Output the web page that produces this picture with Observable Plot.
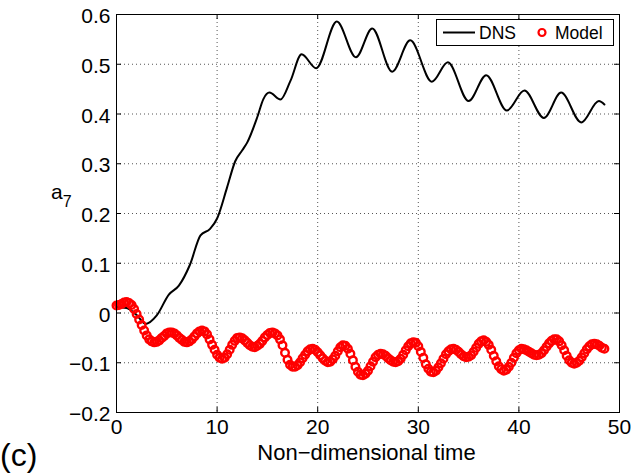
<!DOCTYPE html>
<html>
<head>
<meta charset="utf-8">
<script src="https://cdn.jsdelivr.net/npm/d3@7"></script>
<script src="https://cdn.jsdelivr.net/npm/@observablehq/plot@0.6"></script>
<style>
  body { margin: 0; background: #fff; }
  #fig { position: relative; width: 632px; height: 474px; font-family: "Liberation Sans", Arial, Helvetica, sans-serif; color: #000; }
  #fig svg { position: absolute; left: 0; top: 0; }
</style>
</head>
<body>
<div id="fig"></div>
<script>
// DNS coefficient a7 (time, value)
const dnsTime  = [0, 1.0, 2.0, 2.9, 4.0, 5.2, 6.2, 7.3, 8.35, 9.3, 10.0, 11.0, 11.8, 12.5, 13.0, 14.0, 14.6, 15.2,
                  16.3, 17.3, 18.4, 19.85, 21.9, 23.8, 25.42, 27.4, 29.2, 31.35, 32.94, 35.0, 36.75, 38.8,
                  40.55, 42.48, 44.2, 46.2, 47.95, 48.5];
const dnsValue = [0.012, 0.010, -0.004, -0.022, -0.005, 0.037, 0.055, 0.097, 0.156, 0.169, 0.190, 0.253, 0.305, 0.327, 0.343, 0.394, 0.430, 0.443,
                  0.429, 0.467, 0.520, 0.492, 0.586, 0.514, 0.572, 0.485, 0.548, 0.465, 0.504, 0.426, 0.478, 0.407,
                  0.447, 0.392, 0.443, 0.383, 0.426, 0.419];

// Reduced-order model coefficient a7, one sample every modelStep time units from t = 0
const modelStep = 0.25;
const modelValue = [
   0.015,  0.016,  0.018,  0.021,  0.022,  0.020,  0.016,  0.008,
  -0.002, -0.013, -0.024, -0.035, -0.045, -0.053, -0.057, -0.059,
  -0.058, -0.055, -0.050, -0.046, -0.041, -0.039, -0.039, -0.041,
  -0.045, -0.050, -0.054, -0.058, -0.059, -0.057, -0.053, -0.047,
  -0.041, -0.037, -0.035, -0.037, -0.043, -0.053, -0.064, -0.074,
  -0.084, -0.090, -0.092, -0.090, -0.083, -0.074, -0.064, -0.056,
  -0.050, -0.049, -0.051, -0.055, -0.060, -0.065, -0.068, -0.069,
  -0.066, -0.062, -0.056, -0.049, -0.044, -0.040, -0.039, -0.041,
  -0.045, -0.053, -0.065, -0.080, -0.094, -0.104, -0.108, -0.108,
  -0.105, -0.099, -0.091, -0.084, -0.077, -0.073, -0.072, -0.074,
  -0.079, -0.085, -0.091, -0.096, -0.099, -0.098, -0.093, -0.086,
  -0.077, -0.069, -0.065, -0.066, -0.072, -0.082, -0.095, -0.108,
  -0.118, -0.124, -0.125, -0.122, -0.116, -0.107, -0.098, -0.089,
  -0.084, -0.082, -0.083, -0.086, -0.091, -0.095, -0.098, -0.099,
  -0.097, -0.092, -0.084, -0.075, -0.067, -0.061, -0.059, -0.060,
  -0.067, -0.078, -0.090, -0.103, -0.112, -0.118, -0.119, -0.116,
  -0.109, -0.101, -0.092, -0.083, -0.077, -0.073, -0.072, -0.074,
  -0.078, -0.083, -0.087, -0.089, -0.088, -0.085, -0.078, -0.070,
  -0.062, -0.057, -0.055, -0.058, -0.064, -0.074, -0.086, -0.097,
  -0.107, -0.113, -0.116, -0.114, -0.108, -0.100, -0.090, -0.081,
  -0.075, -0.072, -0.073, -0.075, -0.078, -0.081, -0.084, -0.085,
  -0.084, -0.081, -0.075, -0.068, -0.061, -0.056, -0.053, -0.053,
  -0.057, -0.065, -0.075, -0.086, -0.095, -0.100, -0.102, -0.100,
  -0.096, -0.089, -0.081, -0.073, -0.067, -0.063, -0.062, -0.063,
  -0.066, -0.070, -0.072
];

const xTicks = [0, 10, 20, 30, 40, 50];
const yTicks = [-0.2, -0.1, 0, 0.1, 0.2, 0.3, 0.4, 0.5, 0.6];
const seriesNames = ["DNS", "Model"];
const xLabel = "Non\u2212dimensional time";
const panelTag = "(c)";

const dns = dnsTime.map((t, i) => ({t, a: dnsValue[i]}));
const model = modelValue.map((a, i) => ({t: i * modelStep, a}));

const W = 632, H = 474, mL = 116, mR = 13, mT = 14, mB = 62;
const innerW = W - mL - mR, innerH = H - mT - mB;
const font = '"Liberation Sans", Arial, Helvetica, sans-serif';
const gridStyle = {stroke: "#555", strokeOpacity: 1, strokeWidth: 1, strokeDasharray: "1,3"};

const chart = Plot.plot({
  width: W, height: H,
  marginLeft: mL, marginRight: mR, marginTop: mT, marginBottom: mB,
  style: {fontFamily: font, fontSize: "21px", color: "#000", background: "#fff", overflow: "visible"},
  x: {domain: [0, 50], label: null},
  y: {domain: [-0.2, 0.6], label: null},
  marks: [
    Plot.gridX(xTicks, gridStyle),
    Plot.gridY(yTicks, gridStyle),
    // inward tick marks on all four sides
    Plot.tickY(yTicks, {y: d => d, insetRight: innerW - 5, stroke: "#000"}),
    Plot.tickY(yTicks, {y: d => d, insetLeft: innerW - 5, stroke: "#000"}),
    Plot.tickX(xTicks, {x: d => d, insetTop: innerH - 5, stroke: "#000"}),
    Plot.tickX(xTicks, {x: d => d, insetBottom: innerH - 5, stroke: "#000"}),
    Plot.axisX(xTicks, {tickSize: 0, tickPadding: 7, tickFormat: d => String(d), label: null}),
    Plot.axisY(yTicks, {tickSize: 0, tickPadding: 6, tickFormat: d3.format("~g"), dy: 2, label: null}),
    Plot.line(dns, {x: "t", y: "a", stroke: "#000", strokeWidth: 2, curve: "monotone-x"}),
    Plot.dot(model, {x: "t", y: "a", r: 3.8, stroke: "#ff0000", strokeWidth: 2.4, fill: "none"}),
    Plot.frame({stroke: "#000", strokeWidth: 1})
  ]
});
document.getElementById("fig").appendChild(chart);

// annotations: axis titles, panel tag and legend
const svg = d3.select("#fig").append("svg")
  .attr("width", W).attr("height", H)
  .style("font-family", font)
  .style("pointer-events", "none");

svg.append("text").attr("x", (mL + W - mR) / 2 - 1).attr("y", 460)
  .attr("text-anchor", "middle").attr("font-size", 22).text(xLabel);

const yl = svg.append("text").attr("x", 51).attr("y", 199).attr("font-size", 21);
yl.append("tspan").text("a");
yl.append("tspan").attr("font-size", 16).attr("dy", 8).text("7");

svg.append("text").attr("x", 0).attr("y", 466).attr("font-size", 32).text(panelTag);

const lg = svg.append("g");
lg.append("rect").attr("x", 436.5).attr("y", 19.5).attr("width", 177).attr("height", 26)
  .attr("fill", "#fff").attr("stroke", "#000").attr("stroke-width", 1);
lg.append("line").attr("x1", 443).attr("x2", 475).attr("y1", 32.5).attr("y2", 32.5)
  .attr("stroke", "#000").attr("stroke-width", 2);
lg.append("text").attr("x", 479).attr("y", 39).attr("font-size", 17.5).text(seriesNames[0]);
lg.append("circle").attr("cx", 542).attr("cy", 32.5).attr("r", 3.5)
  .attr("fill", "none").attr("stroke", "#ff0000").attr("stroke-width", 2.2);
lg.append("text").attr("x", 555).attr("y", 39).attr("font-size", 17.5).text(seriesNames[1]);
</script>
</body>
</html>
